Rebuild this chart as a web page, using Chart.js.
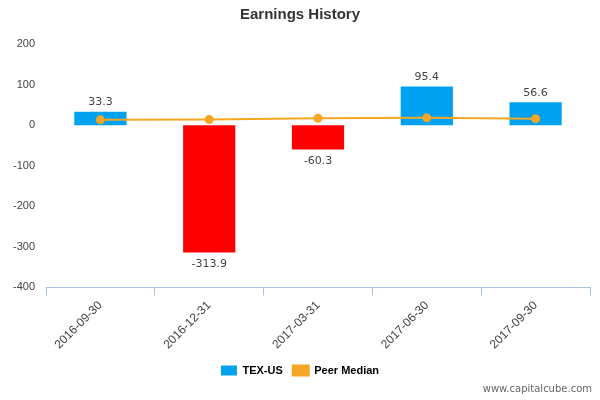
<!DOCTYPE html>
<html><head><meta charset="utf-8">
<script src="https://cdn.jsdelivr.net/npm/chart.js@4"></script>
<style>body{margin:0;background:#fff}#wrap{width:600px;height:400px;position:relative}
#wm{position:absolute;right:8px;bottom:6px;font:10px "DejaVu Sans",sans-serif;color:#666}</style>
</head><body><div id="wrap"><canvas id="c"></canvas><div id="wm">www.capitalcube.com</div></div>
<script>
const categories = ["2016-09-30", "2016-12-31", "2017-03-31", "2017-06-30", "2017-09-30"];
const texValues = [33.3, -313.9, -60.3, 95.4, 56.6];
const peerMedian = [13, 14, 17, 18, 16];
const yTicks = [-400, -300, -200, -100, 0, 100, 200];

const labelPlugin = {
  id: "barLabels",
  afterDatasetsDraw(chart) {
    const ctx = chart.ctx;
    const meta = chart.getDatasetMeta(0);
    ctx.save();
    ctx.font = "11px 'DejaVu Sans', sans-serif";
    ctx.fillStyle = "#444";
    ctx.textAlign = "center";
    meta.data.forEach((bar, i) => {
      const v = texValues[i];
      if (v >= 0) { ctx.textBaseline = "bottom"; ctx.fillText(v.toFixed(1), bar.x, bar.y - 4); }
      else { ctx.textBaseline = "top"; ctx.fillText(v.toFixed(1), bar.x, bar.y + 6); }
    });
    ctx.restore();
  }
};

new Chart(document.getElementById("c"), {
  data: {
    labels: categories,
    datasets: [{
      type: "bar",
      label: "TEX-US",
      data: texValues,
      backgroundColor: texValues.map(v => v < 0 ? "#ff0000" : "#00a2f0"),
      barPercentage: 0.48,
      categoryPercentage: 1,
      order: 2
    }, {
      type: "line",
      label: "Peer Median",
      data: peerMedian,
      borderColor: "#f5a623",
      backgroundColor: "#f5a623",
      borderWidth: 2,
      pointRadius: 3.5,
      tension: 0,
      order: 1
    }]
  },
  options: {
    animation: false,
    responsive: true,
    maintainAspectRatio: false,
    layout: { padding: { left: 10, right: 10, bottom: 14 } },
    scales: {
      y: {
        min: -400, max: 200,
        afterBuildTicks: axis => { axis.ticks = yTicks.map(v => ({ value: v })); },
        grid: { display: false },
        border: { display: false },
        ticks: { color: "#444", font: { size: 11 } }
      },
      x: {
        grid: { display: true, drawOnChartArea: false, offset: true, color: "#a8c4e0", tickLength: 8 },
        border: { color: "#a8c4e0" },
        ticks: { color: "#444", font: { size: 12 }, maxRotation: 45, minRotation: 45 }
      }
    },
    plugins: {
      title: { display: true, text: "Earnings History", color: "#333", font: { size: 15, weight: "bold" }, padding: { top: 6, bottom: 20 } },
      legend: {
        position: "bottom",
        labels: {
          color: "#333", font: { size: 11, weight: "bold" }, boxWidth: 16, boxHeight: 10,
          generateLabels: chart => [
            { text: "TEX-US", fillStyle: "#00a2f0", strokeStyle: "#00a2f0", lineWidth: 0, datasetIndex: 0 },
            { text: "Peer Median", fillStyle: "#f5a623", strokeStyle: "#f5a623", lineWidth: 2, datasetIndex: 1 }
          ]
        }
      },
      tooltip: { enabled: false }
    }
  },
  plugins: [labelPlugin]
});
</script></body></html>
